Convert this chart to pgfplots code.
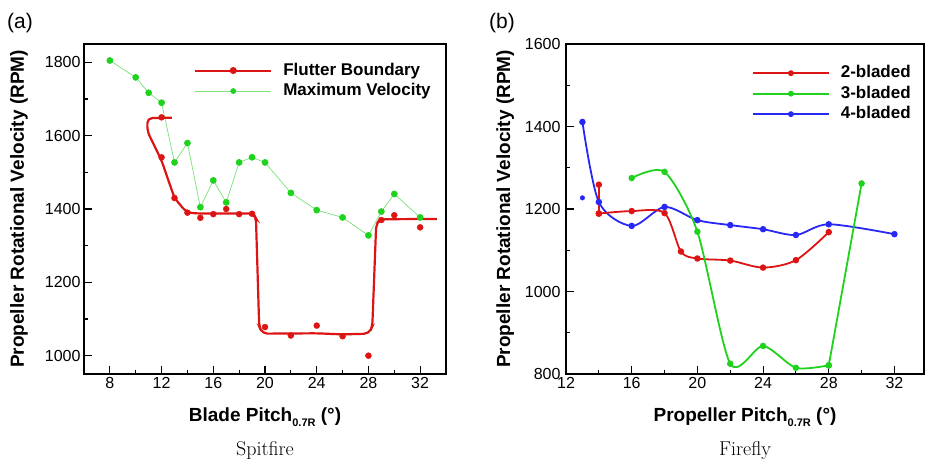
\documentclass[border=0pt]{standalone}
\usepackage{pgfplots}
\pgfplotsset{compat=1.18}
\usepackage{fontspec}
\newfontfamily\arial{Liberation Sans}
\definecolor{cred}{RGB}{220,20,20}
\definecolor{cgreen}{RGB}{30,210,30}
\definecolor{clgreen}{RGB}{120,225,120}
\definecolor{cblue}{RGB}{40,40,245}
\pgfplotsset{
 common/.style={
  scale only axis,
  axis line style={line width=1.6pt},
  tick style={line width=1.1pt, black},
  major tick length=8pt, minor tick length=4pt,
  tick align=inside,
  xtick pos=bottom, ytick pos=left,
  minor x tick num=1, minor y tick num=1,
  ticklabel style={font=\arial\fontsize{16}{18}\selectfont},
  /pgf/number format/assume math mode=true,
  /pgf/number format/1000 sep={},
  scaled ticks=false,
  label style={font=\arial\bfseries\fontsize{19}{22}\selectfont},
  legend style={draw=none, fill=none, font=\arial\bfseries\fontsize{17}{20}\selectfont,
    inner sep=0pt, row sep=1.5pt, nodes={inner sep=1pt, text depth=4pt, text height=13pt}},
  legend cell align=left,
 }
}
\begin{document}
\begin{tikzpicture}
\path[use as bounding box] (0pt,0pt) rectangle (925pt,464pt);
% ---------- (a) Spitfire ----------
\begin{axis}[common, at={(84pt,90pt)}, anchor=south west,
  width=362pt, height=330pt,
  xmin=6, xmax=34, ymin=950, ymax=1850,
  xtick={8,12,...,32}, ytick={1000,1200,...,1800},
  xlabel={Blade Pitch\raisebox{-5pt}{\fontsize{11}{11}\selectfont 0.7R} (°)},
  ylabel={Propeller Rotational Velocity (RPM)},
  xlabel style={at={(axis description cs:0.5,-0.1445)}, anchor=base},
  ylabel style={at={(axis description cs:-0.18,0.5)}, anchor=center},
  legend style={at={(axis description cs:0.304,0.949)}, anchor=north west},
  legend image code/.code={\draw[mark repeat=2,mark phase=2,#1] plot coordinates {(0pt,0pt) (38pt,0pt) (76pt,0pt)};},
]
\addlegendimage{cred, line width=2pt, mark=*, mark size=2.5pt}
\addlegendentry{\hspace{10pt}Flutter Boundary}
\addlegendimage{clgreen, line width=0.7pt, mark=*, mark size=2.5pt, mark options={cgreen}}
\addlegendentry{\hspace{10pt}Maximum Velocity}
% Maximum velocity
\addplot[forget plot, clgreen, line width=0.7pt, mark=*, mark size=3pt, mark options={cgreen, draw=cgreen, fill=cgreen}] coordinates {
(8,1805) (10,1759) (11,1717) (12,1690) (13,1527) (14,1580) (15,1405) (16,1478) (17,1418)
(18,1527) (19,1541) (20,1527) (22,1444) (24,1397) (26,1377) (28,1328) (29,1393) (30,1441) (32,1377)};
% Flutter boundary fitted line
\addplot[forget plot, cred, line width=2.2pt, rounded corners=5pt] coordinates {
(12.8,1649) (10.9,1648) (10.9,1612) (12,1532) (13,1430) (13.9,1392) (14.5,1388)
(19.1,1388) (19.3,1375) (19.55,1080) (19.8,1060) (24,1061) (26,1058) (28.05,1060) (28.3,1080)
(28.6,1358) (28.9,1372) (33.3,1373)};
% Flutter boundary data points
\addplot[forget plot, only marks, mark=*, mark size=3pt, mark options={cred, draw=cred, fill=cred}] coordinates {
(12,1650) (12,1541) (13,1430) (14,1390) (15,1376) (16,1386) (17,1400) (18,1386) (19,1387)
(20,1078) (22,1055) (24,1082) (26,1053) (28,1000) (29,1370) (30,1383) (32,1350)};
\end{axis}
% ---------- (b) Firefly ----------
\begin{axis}[common, at={(566pt,90pt)}, anchor=south west,
  width=358pt, height=330pt,
  xmin=12, xmax=33.8, ymin=800, ymax=1600,
  xtick={12,16,...,32}, ytick={800,1000,...,1600},
  yticklabel style={xshift=-2pt},
  xlabel={Propeller Pitch\raisebox{-5pt}{\fontsize{11}{11}\selectfont 0.7R} (°)},
  ylabel={Propeller Rotational Velocity (RPM)},
  xlabel style={at={(axis description cs:0.5,-0.1445)}, anchor=base},
  ylabel style={at={(axis description cs:-0.17,0.5)}, anchor=center},
  legend style={at={(axis description cs:0.519,0.941)}, anchor=north west},
  legend image code/.code={\draw[mark repeat=2,mark phase=2,#1] plot coordinates {(0pt,0pt) (38pt,0pt) (76pt,0pt)};},
]
\addlegendimage{cred, line width=1.8pt, mark=*, mark size=2pt}
\addlegendentry{\hspace{10pt}2-bladed}
\addlegendimage{cgreen, line width=1.8pt, mark=*, mark size=2pt}
\addlegendentry{\hspace{10pt}3-bladed}
\addlegendimage{cblue, line width=1.8pt, mark=*, mark size=2pt}
\addlegendentry{\hspace{10pt}4-bladed}
% 4-bladed
\addplot[forget plot, cblue, line width=1.8pt, smooth, mark=*, mark size=2.3pt] coordinates {
(13,1411) (14,1217) (16,1159) (18,1205) (20,1173) (22,1161) (24,1151) (26,1137) (28,1163) (32,1139)};
\addplot[forget plot, only marks, cblue, mark=*, mark size=2.3pt] coordinates {(13,1227)};
% 2-bladed
\addplot[forget plot, cred, line width=1.8pt, mark=*, mark size=2.3pt] coordinates {(14,1259) (14,1189)};
\addplot[forget plot, cred, line width=1.8pt, smooth, mark=*, mark size=2.3pt] coordinates {
(14,1189) (16,1195) (18,1190) (19,1097) (20,1080) (22,1075) (24,1058) (26,1076) (28,1144)};
% 3-bladed
\addplot[forget plot, cgreen, line width=1.8pt, smooth, tension=0.45, mark=*, mark size=2.3pt] coordinates {
(16,1275) (18,1290) (20,1145) (22,825) (24,868) (26,815) (28,821)};
\addplot[forget plot, cgreen, line width=1.8pt, mark=*, mark size=2.3pt] coordinates {
(28,821) (30,1262)};
\end{axis}
\node[font=\fontsize{20}{24}\selectfont, anchor=base] at (265pt,9pt) {Spitfire};
\node[font=\fontsize{20}{24}\selectfont, anchor=base] at (745pt,9pt) {Firefly};
\node[font=\arial\fontsize{21}{24}\selectfont, anchor=base west, inner sep=0pt] at (7pt,435pt) {(a)};
\node[font=\arial\fontsize{21}{24}\selectfont, anchor=base west, inner sep=0pt] at (489pt,435pt) {(b)};
\end{tikzpicture}
\end{document}
